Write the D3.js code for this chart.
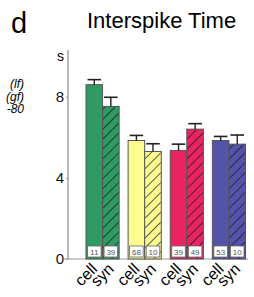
<!DOCTYPE html>
<html>
<head>
<meta charset="utf-8">
<script src="https://cdn.jsdelivr.net/npm/d3@7"></script>
<style>
  body { margin: 0; background: #fff; }
  text { font-family: "Liberation Sans", Arial, sans-serif; }
</style>
</head>
<body>
<div class="chart"></div>
<script>
var width = 254;
var height = 297;

// data
var groups = ['g1', 'g2', 'g3', 'g4'];
var kinds = ['cell', 'syn'];
var colors = ['#2f9a64', '#fcfc8e', '#ea2461', '#5353a9'];
var cellMeans = [8.59, 5.84, 5.35, 5.84];
var cellErr = [0.25, 0.25, 0.31, 0.20];
var synMeans = [7.52, 5.30, 6.40, 5.66];
var synErr = [0.45, 0.38, 0.27, 0.45];
var cellN = ['11', '68', '39', '53'];
var synN = ['39', '10', '49', '10'];
var yTicks = [0, 4, 8];
var sideLabels = ['(lf)', '(gf)', '-80'];

var rows = [];
groups.forEach(function(g, i) {
  rows.push({group: g, kind: 'cell', v: cellMeans[i], e: cellErr[i], n: cellN[i], color: colors[i]});
  rows.push({group: g, kind: 'syn', v: synMeans[i], e: synErr[i], n: synN[i], color: colors[i]});
});

var svg = d3.select('.chart')
  .append('svg')
  .attr('width', width)
  .attr('height', height);

var defs = svg.append('defs');
var pat = defs.append('pattern')
  .attr('id', 'hatch')
  .attr('patternUnits', 'userSpaceOnUse')
  .attr('width', 7)
  .attr('height', 7)
  .attr('patternTransform', 'rotate(45)');
pat.append('line')
  .attr('x1', 0).attr('y1', 0)
  .attr('x2', 0).attr('y2', 7)
  .attr('stroke', '#1a1a2a')
  .attr('stroke-opacity', 0.85)
  .attr('stroke-width', 1.7);

var x = d3.scaleBand()
  .domain(groups)
  .range([81.5, 250])
  .paddingInner(0.213)
  .paddingOuter(0.1065);

var xi = d3.scaleBand()
  .domain(kinds)
  .range([0, x.bandwidth()]);

var y = d3.scaleLinear()
  .domain([0, 10.3])
  .range([259, 50]);

// panel letter and title
svg.append('text')
  .attr('x', 11).attr('y', 33)
  .attr('font-size', 29)
  .text('d');

svg.append('text')
  .attr('x', 87).attr('y', 28)
  .attr('font-size', 22)
  .text('Interspike Time');

// clipped labels from the neighbouring panel
svg.selectAll('.side')
  .data(sideLabels)
  .enter().append('text')
  .attr('class', 'side')
  .attr('x', 24)
  .attr('y', function(d, i) { return 88 + i * 12.5; })
  .attr('text-anchor', 'end')
  .attr('font-size', 12)
  .attr('font-style', 'italic')
  .text(function(d) { return d; });

// axis
var axisG = svg.append('g')
  .attr('transform', 'translate(68,0)')
  .call(d3.axisLeft(y).tickValues(yTicks).tickSize(2).tickPadding(2));
axisG.select('.domain').remove();
axisG.selectAll('.tick line').attr('stroke', '#999');
axisG.selectAll('.tick text')
  .attr('font-size', 15)
  .attr('fill', '#111')
  .attr('font-family', '"Liberation Sans", Arial, sans-serif');

svg.append('line')
  .attr('x1', 68).attr('x2', 68)
  .attr('y1', y(10.3)).attr('y2', y(0))
  .attr('stroke', '#8a8a8a')
  .attr('stroke-width', 1.2);

svg.append('line')
  .attr('x1', 64).attr('x2', 248)
  .attr('y1', y(0)).attr('y2', y(0))
  .attr('stroke', '#999');

svg.append('text')
  .attr('x', 57).attr('y', 61)
  .attr('font-size', 14)
  .text('s');

// bars
var bars = svg.selectAll('.bar')
  .data(rows)
  .enter().append('g')
  .attr('class', 'bar')
  .attr('transform', function(d) { return 'translate(' + (x(d.group) + xi(d.kind)) + ',0)'; });

bars.append('rect')
  .attr('x', 0)
  .attr('y', function(d) { return y(d.v); })
  .attr('width', xi.bandwidth())
  .attr('height', function(d) { return y(0) - y(d.v); })
  .attr('fill', function(d) { return d.color; })
  .attr('stroke', '#555')
  .attr('stroke-width', 1);

bars.filter(function(d) { return d.kind === 'syn'; })
  .append('rect')
  .attr('x', 0.5)
  .attr('y', function(d) { return y(d.v) + 0.5; })
  .attr('width', xi.bandwidth() - 1)
  .attr('height', function(d) { return y(0) - y(d.v) - 1; })
  .attr('fill', 'url(#hatch)');

// error bars (upper only)
bars.append('line')
  .attr('x1', xi.bandwidth() / 2).attr('x2', xi.bandwidth() / 2)
  .attr('y1', function(d) { return y(d.v); })
  .attr('y2', function(d) { return y(d.v + d.e); })
  .attr('stroke', '#222')
  .attr('stroke-width', 1.4);

bars.append('line')
  .attr('x1', 1.5).attr('x2', xi.bandwidth() - 1.5)
  .attr('y1', function(d) { return y(d.v + d.e); })
  .attr('y2', function(d) { return y(d.v + d.e); })
  .attr('stroke', '#222')
  .attr('stroke-width', 1.6);

// counts
bars.append('rect')
  .attr('x', 1.5)
  .attr('y', y(0) - 13)
  .attr('width', xi.bandwidth() - 3)
  .attr('height', 11)
  .attr('fill', '#fff')
  .attr('stroke', '#666')
  .attr('stroke-width', 0.8);

bars.append('text')
  .attr('x', xi.bandwidth() / 2)
  .attr('y', y(0) - 4.5)
  .attr('text-anchor', 'middle')
  .attr('font-size', 8)
  .attr('fill', '#555')
  .text(function(d) { return d.n; });

// category labels
bars.append('text')
  .attr('text-anchor', 'end')
  .attr('font-size', 16)
  .attr('transform', function(d) { return 'translate(' + (xi.bandwidth() / 2 + 4) + ',' + (y(0) + 11) + ') rotate(-45)'; })
  .text(function(d) { return d.kind; });
</script>
</body>
</html>
